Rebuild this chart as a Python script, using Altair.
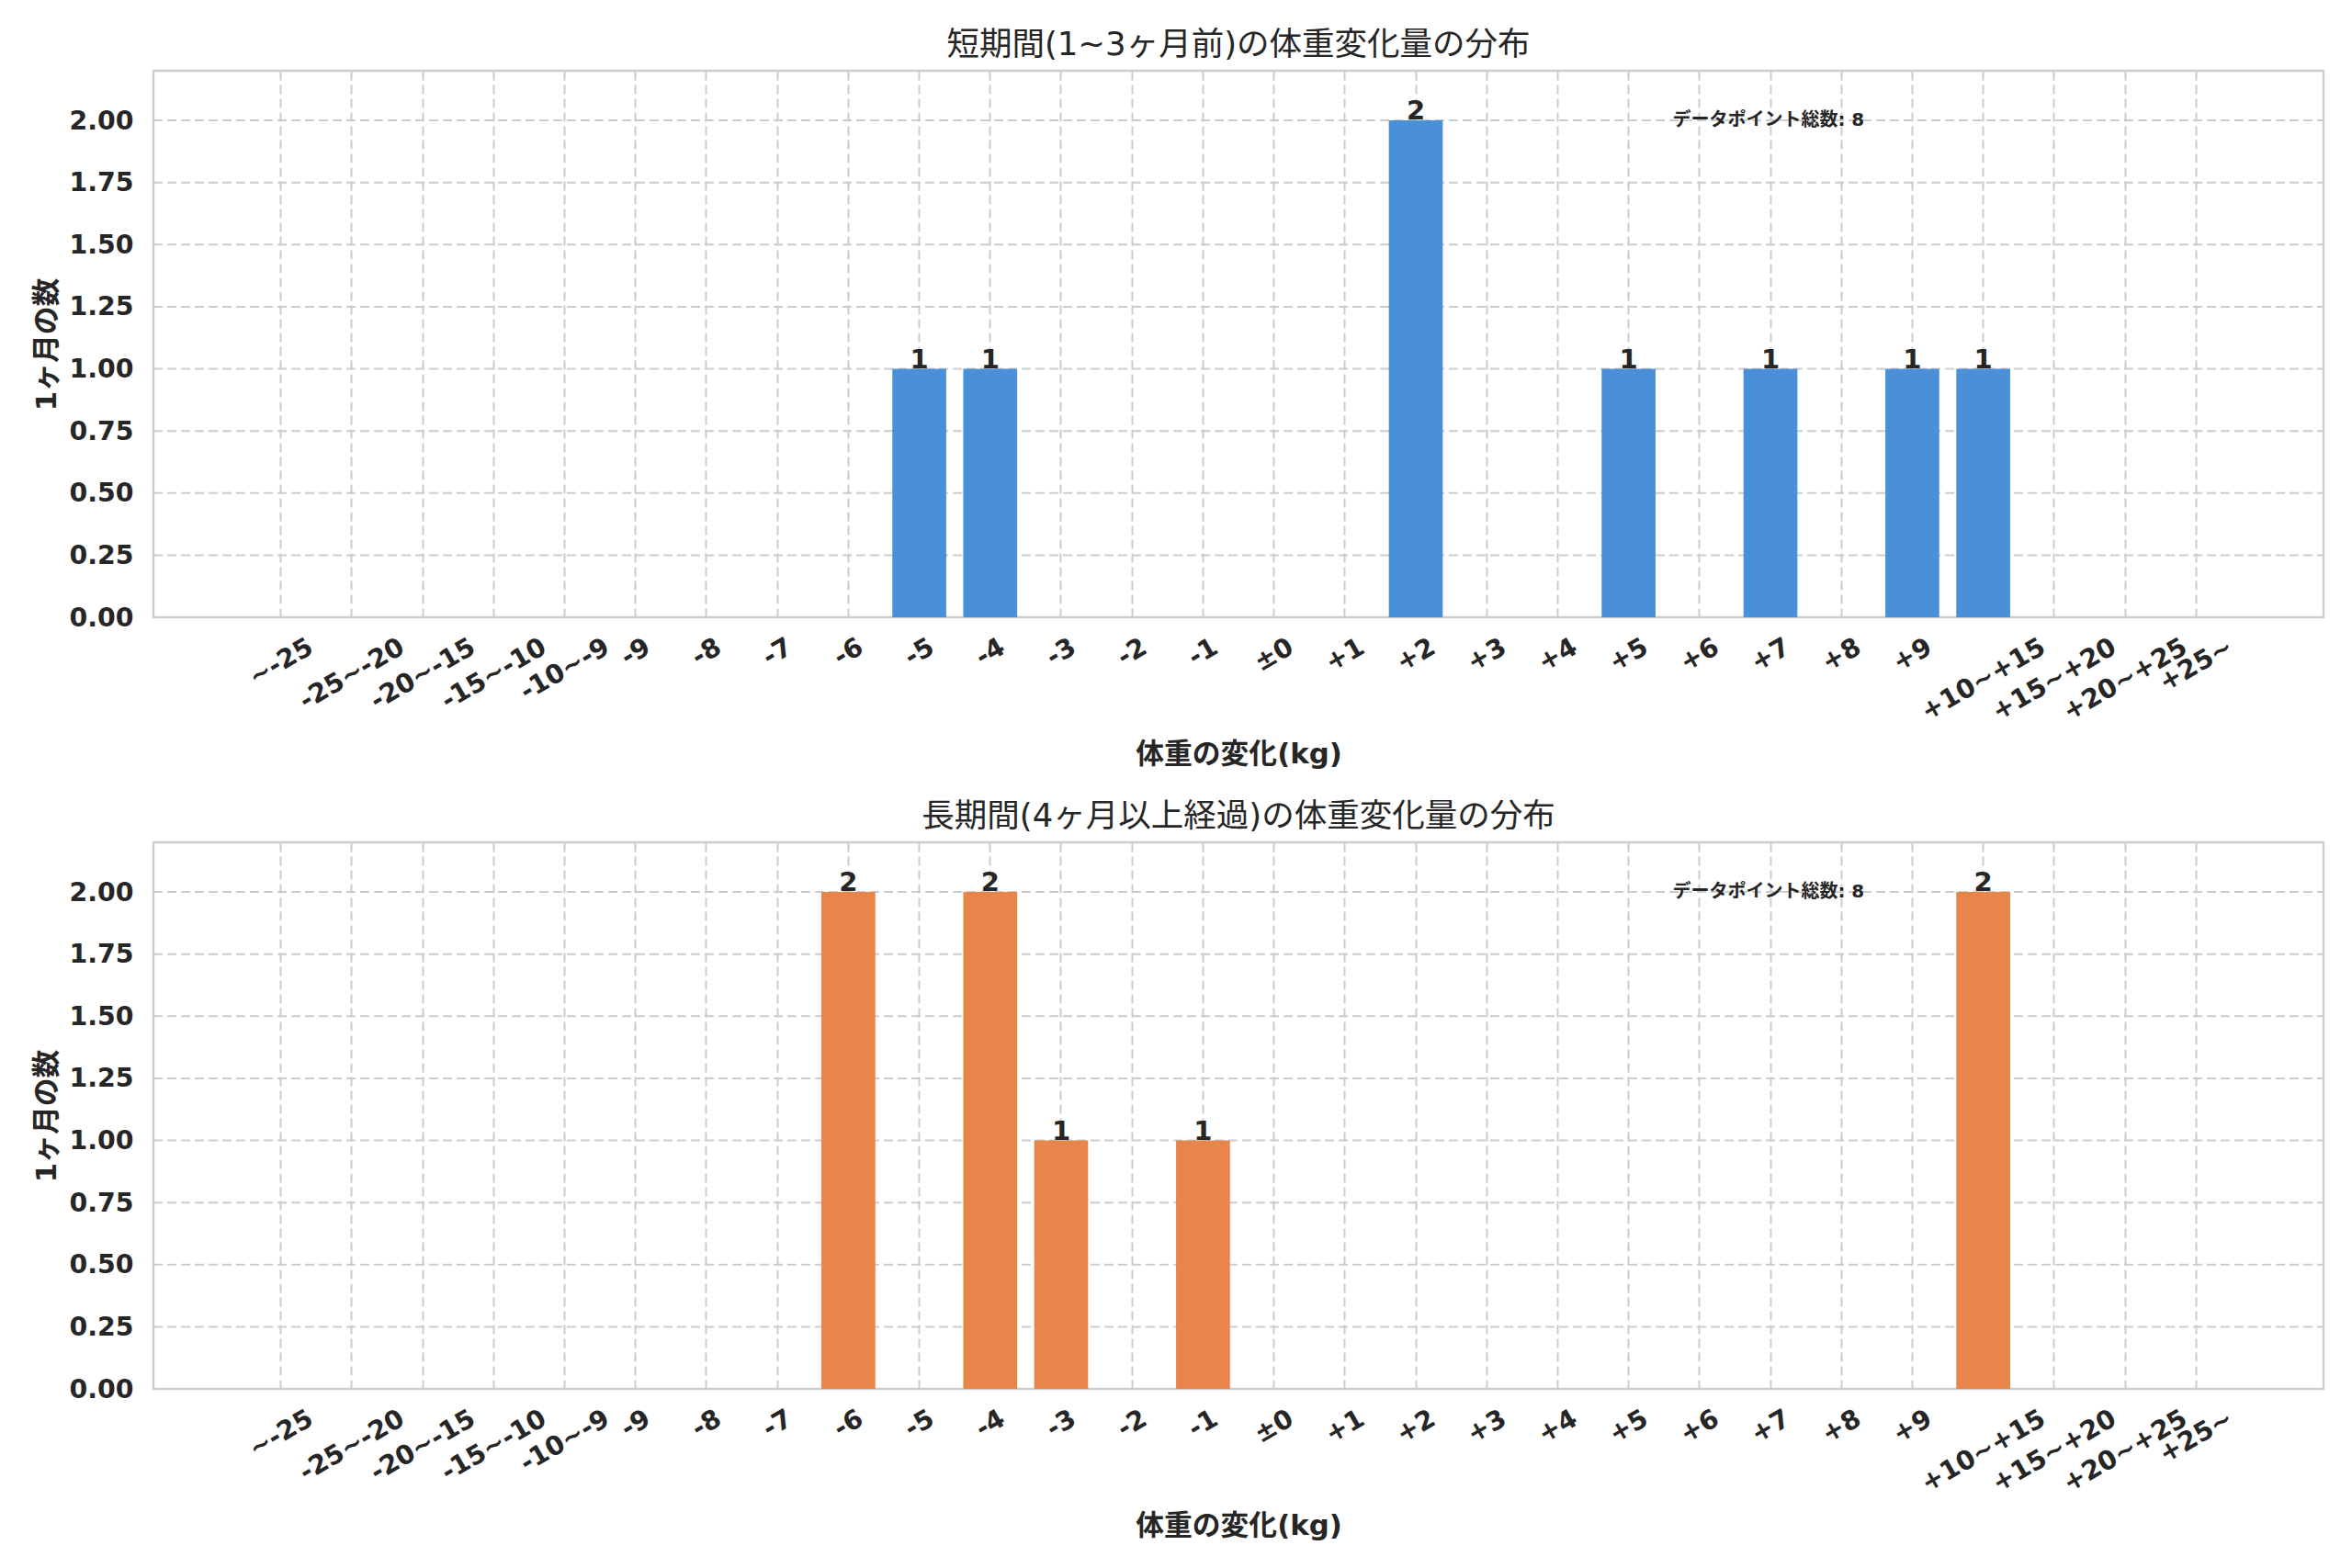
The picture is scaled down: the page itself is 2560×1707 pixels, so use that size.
import altair as alt
import pandas as pd

categories = ["~-25", "-25~-20", "-20~-15", "-15~-10", "-10~-9", "-9", "-8", "-7", "-6", "-5",
              "-4", "-3", "-2", "-1", "±0", "+1", "+2", "+3", "+4", "+5", "+6", "+7", "+8", "+9",
              "+10~+15", "+15~+20", "+20~+25", "+25~"]
short_counts = [0, 0, 0, 0, 0, 0, 0, 0, 0, 1, 1, 0, 0, 0, 0, 0, 2, 0, 0, 1, 0, 1, 0, 1, 1, 0, 0, 0]
long_counts = [0, 0, 0, 0, 0, 0, 0, 0, 2, 0, 2, 1, 0, 1, 0, 0, 0, 0, 0, 0, 0, 0, 0, 0, 2, 0, 0, 0]
y_ticks = [0, 0.25, 0.5, 0.75, 1.0, 1.25, 1.5, 1.75, 2.0]

title_short = "短期間(1~3ヶ月前)の体重変化量の分布"
title_long = "長期間(4ヶ月以上経過)の体重変化量の分布"
x_title = "体重の変化(kg)"
y_title = "1ヶ月の数"
note_label = "データポイント総数"

BLUE = "#4a90d9"
ORANGE = "#e8854a"
TEXT = "#262626"
GRID = "#cccccc"
FONT = "DejaVu Sans, Noto Sans CJK JP, sans-serif"

W = 2362
H = 595
TICK_FS = 28.4

# band layout: 28 bands, bar = 76% of step, outer margin of 1.4175 steps each side
n = len(categories)
step = W / (n - 0.24 + 2 * 1.4175)
r0 = 1.4175 * step
x_range = [r0, W - r0]

# approximate DejaVu Sans Bold advance widths (em) used to place rotated tick labels
char_w = {"-": 0.415, "+": 0.838, "~": 0.838, "±": 0.838}


def label_width(s):
    return sum(char_w.get(c, 0.696) for c in s) * TICK_FS


tick_df = pd.DataFrame({
    "cat": categories,
    "ly": [H + 30 + 0.25 * label_width(c) for c in categories],
})

x_scale = alt.Scale(domain=categories, paddingInner=0.24, paddingOuter=0, range=x_range)
y_scale = alt.Scale(domain=[0, 2.2], nice=False, zero=True)


def panel(counts, color, title):
    df = pd.DataFrame({"cat": categories, "count": counts})
    total = sum(counts)
    base = alt.Chart(df)
    hgrid = alt.Chart(pd.DataFrame({"v": y_ticks})).mark_rule(
        color=GRID, strokeWidth=2, strokeDash=[10, 5]
    ).encode(
        y=alt.Y("v:Q", scale=y_scale),
        x=alt.value(0),
        x2=alt.value(W),
    )
    bars = base.mark_bar(color=color).encode(
        x=alt.X("cat:N", sort=categories, scale=x_scale,
                axis=alt.Axis(labels=False, ticks=False, domain=False, grid=True,
                              gridDash=[10, 5], gridColor=GRID, gridWidth=2,
                              bandPosition=0.5, title=x_title, titlePadding=134,
                              titleFontSize=30.8, titleFontWeight="bold",
                              titleFont=FONT, titleColor=TEXT)),
        y=alt.Y("count:Q", scale=y_scale,
                axis=alt.Axis(values=y_ticks, format=".2f", ticks=False, domain=False,
                              grid=False,
                              labelFontSize=TICK_FS, labelFontWeight="bold", labelFont=FONT,
                              labelColor=TEXT, labelPadding=22, title=y_title,
                              titleFontSize=30.8, titleFontWeight="bold", titleFont=FONT,
                              titleColor=TEXT, titlePadding=8)),
    )
    values = base.transform_filter("datum.count > 0").mark_text(
        baseline="alphabetic", fontSize=29, fontWeight="bold", font=FONT, color=TEXT, dy=-1
    ).encode(
        x=alt.X("cat:N", sort=categories, scale=x_scale),
        y=alt.Y("count:Q", scale=y_scale),
        text=alt.Text("count:Q", format="d"),
    )
    note = alt.Chart(pd.DataFrame({"t": [f"{note_label}: {total}"]})).mark_text(
        align="left", baseline="alphabetic", fontSize=20, fontWeight="bold", font=FONT, color=TEXT
    ).encode(
        x=alt.value(0.7 * W),
        y=alt.datum(1.98),
        text="t:N",
    )
    ticks = alt.Chart(tick_df).mark_text(
        angle=330, align="center", baseline="middle", fontSize=TICK_FS, fontWeight="bold",
        font=FONT, color=TEXT
    ).encode(
        x=alt.X("cat:N", sort=categories, scale=x_scale),
        y=alt.Y("ly:Q", scale=None, axis=None),
        text="cat:N",
    )
    return alt.layer(hgrid, bars, values, note, ticks).properties(
        width=W, height=H,
        title=alt.TitleParams(title, fontSize=35.5, fontWeight="normal", font=FONT,
                              color=TEXT, offset=10),
    )


chart = alt.vconcat(
    panel(short_counts, BLUE, title_short),
    panel(long_counts, ORANGE, title_long),
    spacing=33,
).properties(
    padding={"left": 26, "top": 22, "right": 5, "bottom": 5},
    background="white",
).configure_view(stroke=GRID, strokeWidth=2.3)

chart.save("out.html", embed_options={"renderer": "svg", "actions": False})
